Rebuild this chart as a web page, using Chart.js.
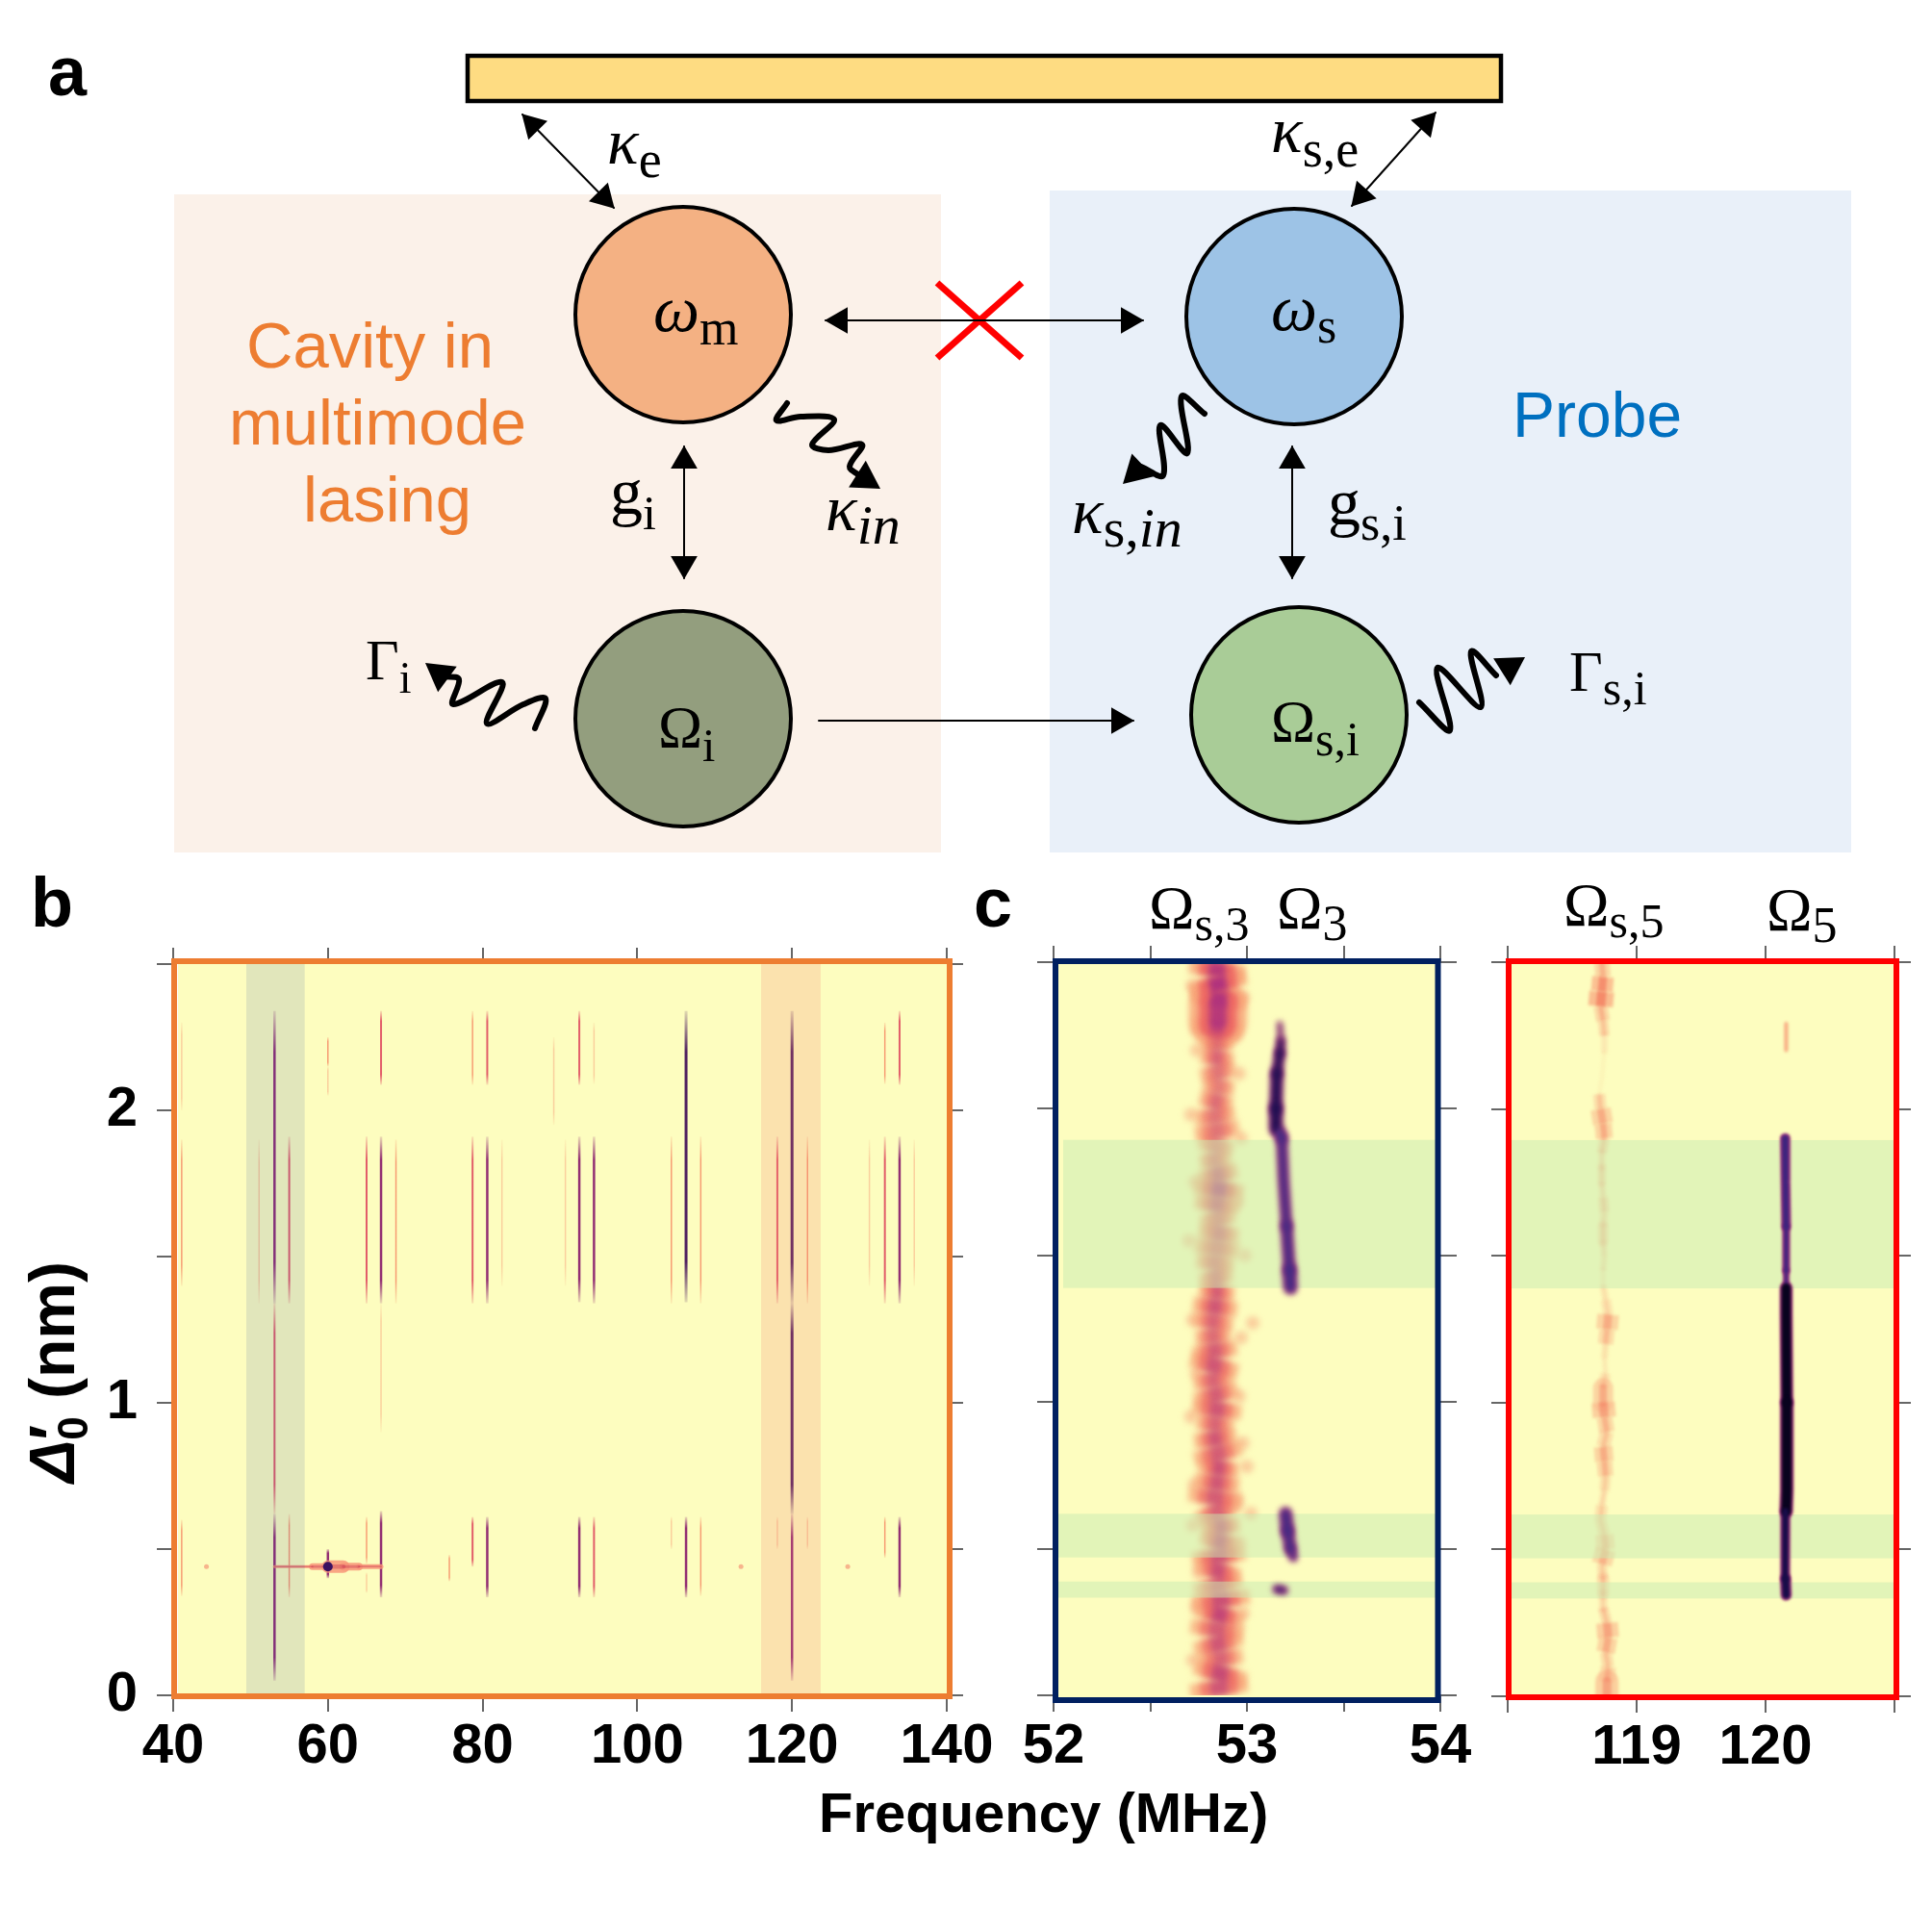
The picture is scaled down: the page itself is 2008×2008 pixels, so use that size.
<!DOCTYPE html>
<html><head><meta charset="utf-8">
<script src="https://cdn.jsdelivr.net/npm/chart.js@4"></script>
<style>
html{background:#fff}
html,body{margin:0;padding:0;width:2008px;height:2008px;overflow:hidden}
canvas{position:absolute}
.t{position:absolute;line-height:0;white-space:nowrap;font-family:"Liberation Serif",serif;color:#000}
.s{font-family:"Liberation Sans",Arial,sans-serif}
.t i{font-style:italic}
.u{position:relative}
</style></head><body>
<script>
/* ---------- panel b: vertical mode streaks ---------- */
const bXTicks=[40,60,80,100,120,140];
const bStreakFreq=[53.1,53.1,53.1,66.87,66.87,66.87,66.87,120,120,120,106.3,106.3,92.5,92.5,92.5,80.6,80.6,80.6,78.7,78.7,78.7,133.9,133.9,133.9,132,132,132,94.4,94.4,94.4,108.2,108.2,104.4,104.4,118.1,118.1,122,122,55,55,51.1,65,65,65,68.8,82.5,135.8,130,90.7,41.1,41.1,41.1,89.2,60,60,75.7,60];
const bStreakLow =[1.34,0.62,0.05,2.087,1.34,0.9,0.335,0.62,0.05,1.34,1.344,0.335,2.087,1.344,0.335,2.087,1.34,0.335,2.087,1.34,0.44,2.087,1.34,0.335,2.09,1.34,0.47,2.09,1.34,0.335,1.34,0.34,1.34,0.5,1.34,0.5,1.34,0.5,1.34,0.335,1.34,1.34,0.45,0.35,1.34,1.4,1.4,1.4,1.4,2.0,1.4,0.34,1.95,2.05,0.4,0.39,2.15];
const bStreakHigh=[2.34,1.34,0.62,2.34,1.91,1.34,0.63,1.34,0.62,2.34,2.34,0.61,2.34,1.91,0.61,2.34,1.91,0.61,2.34,1.91,0.61,2.34,1.91,0.61,2.3,1.91,0.61,2.3,1.91,0.61,1.91,0.61,1.91,0.61,1.91,0.61,1.91,0.61,1.91,0.62,1.9,1.91,0.61,0.42,1.9,1.9,1.9,1.9,1.9,2.3,1.9,0.6,2.25,2.15,0.5,0.48,2.25];
const bStreakLevel=[3,2,3,2,3,0,3,4,3,4,4,3,2,3,3,2,3,3,1,2,2,2,3,3,1,2,1,0,3,2,1,1,1,0,2,0,1,0,2,1,0,2,1,0,1,0,0,0,0,0,1,1,0,0,3,1,1];
const bRidgeFreq=[53.1,55,58,60,62,64,66.87];
const bRidgeDepth=[0.44,0.44,0.44,0.44,0.44,0.44,0.44];
const bRidgeThick=[3,3,7,13,8,5,4];
const bDotFreq=[44.3,113.4,127.2,60];
const bDotDepth=[0.44,0.44,0.44,0.44];
const bBandFreq=[[49.45,57.0],[116.0,123.7]];

/* ---------- panel c shared ---------- */
const cRowDepth=[2.5,2.45,2.4,2.35,2.3,2.25,2.2,2.15,2.1,2.05,2,1.95,1.9,1.85,1.8,1.75,1.7,1.65,1.6,1.55,1.5,1.45,1.4,1.35,1.3,1.25,1.2,1.15,1.1,1.05,1,0.95,0.9,0.85,0.8,0.75,0.7,0.65,0.6,0.55,0.5,0.45,0.4,0.35,0.3,0.25,0.2,0.15,0.1,0.05,0];
const cGreenBands=[[1.389,1.894],[0.47,0.619],[0.333,0.388]];

/* Omega_s,3 probe strip */
const c1StripCentre=[52.85,52.84,52.86,52.85,52.85,52.84,52.85,52.84,52.86,52.85,52.83,52.84,52.85,52.83,52.84,52.86,52.85,52.84,52.86,52.85,52.84,52.83,52.85,52.84,52.83,52.82,52.83,52.84,52.82,52.83,52.85,52.84,52.83,52.84,52.86,52.85,52.84,52.83,52.86,52.87,52.85,52.86,52.84,52.86,52.87,52.85,52.84,52.86,52.87,52.85,52.86];
const c1StripWidth=[0.25,0.26,0.24,0.26,0.22,0.14,0.15,0.16,0.14,0.15,0.18,0.2,0.16,0.14,0.18,0.22,0.2,0.16,0.18,0.2,0.17,0.15,0.16,0.2,0.18,0.16,0.2,0.22,0.18,0.2,0.22,0.17,0.19,0.22,0.18,0.2,0.24,0.2,0.17,0.18,0.24,0.2,0.22,0.26,0.22,0.24,0.22,0.2,0.24,0.26,0.24];
const c1StripCore=[0.8,0.9,0.85,0.8,0.5,0.3,0.4,0.3,0.25,0.35,0.3,0.3,0.25,0.3,0.5,0.75,0.5,0.3,0.4,0.3,0.3,0.35,0.45,0.5,0.4,0.35,0.45,0.5,0.4,0.45,0.5,0.4,0.5,0.45,0.55,0.5,0.45,0.4,0.55,0.6,0.5,0.55,0.4,0.55,0.65,0.45,0.5,0.4,0.6,0.5,0.55];
const c1WispFreq=[52.72,52.98,52.74,52.96,52.71,52.97,52.73,52.95,52.7,52.99,52.72,52.97,52.74,52.96,52.71,52.98,52.73,52.95,53.03,53.0,52.72,52.96,52.75,53.02,52.74,52.98,52.72];
const c1WispDepth=[2.42,2.38,2.2,2.12,1.98,1.9,1.75,1.68,1.55,1.5,1.28,1.22,1.1,1.02,0.95,0.86,0.72,0.66,1.27,0.78,0.58,0.52,0.42,0.62,0.3,0.28,0.12];
/* Omega_3 pieces */
const om3PieceDepth=[[2.29,2.23,2.19,2.12,2,1.93],[1.92,1.9,1.75,1.6,1.45,1.39],[0.62,0.56,0.5,0.47],[0.362,0.358]];
const om3PieceFreq=[[53.17,53.175,53.17,53.155,53.15,53.15],[53.17,53.18,53.19,53.205,53.22,53.225],[53.2,53.21,53.225,53.24],[53.155,53.19]];
const om3PieceWidth=[[0.012,0.03,0.04,0.05,0.055,0.055],[0.045,0.04,0.04,0.045,0.055,0.055],[0.05,0.045,0.03,0.01],[0.03,0.03]];
const om3PieceTone=['28,14,80','66,42,130','66,42,130','50,26,110'];

/* Omega_s,5 probe strip */
const c2StripCentre=[118.73,118.74,118.73,118.72,118.74,118.75,118.75,118.74,118.73,118.71,118.72,118.74,118.75,118.73,118.73,118.73,118.74,118.75,118.74,118.74,118.75,118.74,118.74,118.76,118.78,118.77,118.76,118.75,118.76,118.74,118.74,118.75,118.77,118.74,118.75,118.76,118.75,118.73,118.72,118.75,118.76,118.73,118.74,118.74,118.74,118.77,118.78,118.76,118.78,118.77,118.77];
const c2StripWidth=[0.1,0.14,0.16,0.09,0.07,0.05,0.03,0.03,0.03,0.08,0.13,0.11,0.07,0.05,0.06,0.05,0.07,0.06,0.07,0.05,0.05,0.04,0.05,0.07,0.14,0.1,0.05,0.04,0.07,0.13,0.15,0.1,0.09,0.12,0.1,0.07,0.05,0.08,0.08,0.12,0.13,0.07,0.08,0.06,0.07,0.14,0.12,0.08,0.1,0.15,0.1];
const c2StripLevel=[0.4,0.7,0.75,0.4,0.3,0.1,0.05,0.05,0.05,0.3,0.45,0.45,0.3,0.2,0.25,0.2,0.3,0.2,0.3,0.2,0.15,0.1,0.15,0.2,0.45,0.35,0.15,0.1,0.2,0.45,0.5,0.4,0.3,0.45,0.4,0.25,0.2,0.25,0.25,0.35,0.4,0.25,0.3,0.2,0.3,0.5,0.45,0.3,0.35,0.5,0.35];
/* Omega_5 pieces */
const om5PieceDepth=[[1.9,1.75,1.6,1.45,1.39],[1.39,1.3,1,0.7,0.63],[0.63,0.5,0.4,0.345]];
const om5PieceFreq=[[120.15,120.155,120.16,120.16,120.16],[120.16,120.16,120.165,120.165,120.16],[120.155,120.15,120.155,120.16]];
const om5PieceWidth=[[0.06,0.06,0.045,0.035,0.035],[0.085,0.085,0.09,0.09,0.08],[0.06,0.06,0.07,0.07]];
const om5PieceTone=['62,36,125','8,3,30','24,12,72'];
const om5FaintDepth=[2.29,2.2];
const om5FaintFreq=[120.16,120.16];

/* ---------- panel a: schematic ---------- */
const nodeX=[710,710,1345,1350];
const nodeY=[327,747,329,743];
const nodeColor=["#F4B183","#939E7E","#9DC3E6","#A9CC97"];
const arrowFrom=[[543,119],[1492,117],[858,333],[711,464],[1343,464]];
const arrowTo=[[638,216],[1405,214],[1188,333],[711,601],[1343,601]];
const oneWayFrom=[851,749];
const oneWayTo=[1178,749];
const crossA=[[974,294],[1062,372]];
const crossB=[[974,372],[1062,294]];
const waveKappa=[[818,419],[807,437],[832,433],[867,436],[844,462],[861,468],[896,462],[883,485],[893,494]];
const waveGamma=[[556,757],[567,726],[544,732],[506,752],[522,709],[471,732],[477,706],[461,703]];
const waveKappaS=[[1252,430],[1228,412],[1234,471],[1206,442],[1209,494],[1186,485]];
const waveGammaS=[[1475,730],[1507,759],[1494,694],[1539,735],[1529,677],[1555,702]];
const waveTips=[[915,508],[442,689],[1167,503],[1585,683]];
const blocks=[[181,202,978,886,"#FBF1E9"],[1091,198,1924,886,"#E9F0F9"]];

/* ---------- helpers ---------- */
Chart.defaults.animation=false;
Chart.defaults.responsive=false;
Chart.defaults.maintainAspectRatio=false;
Chart.defaults.devicePixelRatio=1;
Chart.defaults.font.family='"Liberation Sans",Arial,sans-serif';
const tickFont={family:'"Liberation Sans",Arial,sans-serif',weight:'bold',size:58};

function mkCanvas(l,t,w,h){const c=document.createElement('canvas');c.width=w;c.height=h;
  c.style.left=l+'px';c.style.top=t+'px';c.style.width=w+'px';c.style.height=h+'px';document.body.appendChild(c);return c;}
function px(s,v){return s.getPixelForValue(v);}
function line(points,extra){return Object.assign({type:'scatter',data:points,showLine:true,pointRadius:0,borderJoinStyle:'round',borderCapStyle:'round',fill:false},extra);}

function heatPlugin(cfg){
  function hBands(ch){const c=ch.ctx,f=cfg.frame,Y=ch.scales.y,ox=cfg.ox;c.save();c.filter='none';
    (cfg.hBands||[]).forEach((b,i)=>{c.fillStyle='rgba(199,235,177,.5)';const a=px(Y,b[1]),e=px(Y,b[0]);
      const st=((cfg.hStart&&cfg.hStart[i])||f[0])-ox;c.fillRect(st,a,f[2]-ox-st,e-a);});c.restore();}
  return{id:'heat'+cfg.id,
  beforeDatasetsDraw(ch){const c=ch.ctx,f=cfg.frame,ox=cfg.ox,oy=cfg.oy;c.save();c.fillStyle='#FDFDBF';
    const lead=cfg.lead||0;c.fillRect(f[0]-ox+lead,f[1]-oy,f[2]-f[0]-lead,f[3]-f[1]);c.restore();
    c.save();c.filter='blur('+cfg.blur+'px)';},
  beforeDatasetDraw(ch,args){if(cfg.topCount!==undefined&&args.index===cfg.topCount-1)hBands(ch);},
  afterDatasetsDraw(ch){const c=ch.ctx,f=cfg.frame,X=ch.scales.x,ox=cfg.ox,oy=cfg.oy;c.restore();
    c.save();
    (cfg.vBands||[]).forEach((b,i)=>{c.fillStyle=cfg.vColors[i];const a=px(X,b[0]),e=px(X,b[1]);c.fillRect(a,f[1]-oy-3,e-a,f[3]-f[1]);});
    c.strokeStyle=cfg.color;c.lineWidth=cfg.lw||6;c.strokeRect(f[0]-ox,f[1]-oy,f[2]-f[0],f[3]-f[1]);
    c.restore();}};}

function panel(cfg){
  const A=cfg.area,LM=150,RM=70,TM=60,BM=110;
  cfg.ox=A[0]-LM;cfg.oy=A[1]-TM;
  const W=A[2]-A[0]+LM+RM,H=A[3]-A[1]+TM+BM;
  const cv=mkCanvas(cfg.ox,cfg.oy,W,H);
  const fit=n=>(s=>{if(s.isHorizontal())s.height=n;else s.width=n;});
  const tk={drawOnChartArea:false,drawTicks:true,tickLength:17,tickColor:'#666',tickWidth:2,lineWidth:2,color:'#666'};
  const none=()=>'';
  /* Chart.js paints the first dataset last, so hand them over in reverse */
  const ch=new Chart(cv,{data:{datasets:cfg.datasets.slice().reverse()},plugins:[heatPlugin(cfg)],options:{
    layout:{padding:0,autoPadding:false},plugins:{legend:{display:false},tooltip:{enabled:false}},
    scales:{
      x:{type:'linear',position:'bottom',min:cfg.xr[0],max:cfg.xr[1],afterFit:fit(BM),grid:tk,border:{display:false},
        ticks:{stepSize:cfg.xStep,autoSkip:false,maxRotation:0,padding:2,color:'#000',font:tickFont,callback:cfg.xLabel}},
      x2:{type:'linear',position:'top',min:cfg.xr[0],max:cfg.xr[1],afterFit:fit(TM),grid:tk,border:{display:false},
        ticks:{stepSize:cfg.xStep,autoSkip:false,maxRotation:0,callback:none}},
      y:{type:'linear',position:'left',min:0,max:2.5,afterFit:fit(LM),grid:tk,border:{display:false},
        ticks:{stepSize:0.5,autoSkip:false,padding:20,color:'#000',font:tickFont,callback:cfg.yLabel||none}},
      y2:{type:'linear',position:'right',min:0,max:2.5,afterFit:fit(RM),grid:tk,border:{display:false},
        ticks:{stepSize:0.5,autoSkip:false,callback:none}}
    }}});
  /* settle the plot box exactly on the reference's axes */
  const ca=ch.chartArea;
  ch.resize(W+(A[2]-A[0])-(ca.right-ca.left),H+(A[3]-A[1])-(ca.bottom-ca.top));
  const cb=ch.chartArea;
  cfg.ox=A[0]-cb.left;cfg.oy=A[1]-cb.top;
  cv.style.left=cfg.ox+'px';cv.style.top=cfg.oy+'px';
  ch.update();
  return ch;
}

/* ---------- panel a (first, so it sits underneath) ---------- */
function head(tip,from,r){const dx=tip[0]-from[0],dy=tip[1]-from[1],n=Math.hypot(dx,dy);
  return{x:tip[0]-dx/n*r,y:tip[1]-dy/n*r,rot:Math.atan2(dx,-dy)*180/Math.PI};}
const aSets=[];
const headPts=[];
const headSize=[];
arrowFrom.forEach((a,i)=>{const b=arrowTo[i];
  aSets.push(line([{x:a[0],y:a[1]},{x:b[0],y:b[1]}],{borderColor:'#000',borderWidth:2}));
  headPts.push(head(a,b,15),head(b,a,15));headSize.push(16,16);});
aSets.push(line([{x:oneWayFrom[0],y:oneWayFrom[1]},{x:oneWayTo[0],y:oneWayTo[1]}],{borderColor:'#000',borderWidth:2}));
headPts.push(head(oneWayTo,oneWayFrom,15));headSize.push(16);
[crossA,crossB].forEach(c=>aSets.push(line(c.map(p=>({x:p[0],y:p[1]})),{borderColor:'#FF0000',borderWidth:7,borderCapStyle:'butt'})));
[waveKappa,waveGamma,waveKappaS,waveGammaS].forEach((w,i)=>{
  aSets.push(line(w.map(p=>({x:p[0],y:p[1]})),{borderColor:'#000',borderWidth:6,tension:0.35}));
  headPts.push(head(waveTips[i],w[w.length-1],19));headSize.push(19);});
aSets.push({type:'scatter',data:headPts.map(h=>({x:h.x,y:h.y})),pointStyle:'triangle',
  pointRadius:headSize,pointRotation:headPts.map(h=>h.rot),pointBackgroundColor:'#000',pointBorderWidth:0});
aSets.push({type:'scatter',data:nodeX.map((x,i)=>({x,y:nodeY[i]})),pointRadius:112,pointBackgroundColor:nodeColor,pointBorderColor:'#000',pointBorderWidth:4,clip:false});
const blockPlugin={id:'blocks',beforeDatasetsDraw(ch){const c=ch.ctx,X=ch.scales.x,Y=ch.scales.y;c.save();
  blocks.forEach(b=>{c.fillStyle=b[4];c.fillRect(px(X,b[0]),px(Y,b[1]),px(X,b[2])-px(X,b[0]),px(Y,b[3])-px(Y,b[1]));});
  c.fillStyle='#FEDC82';c.strokeStyle='#000';c.lineWidth=4.5;
  c.beginPath();c.rect(px(X,486),px(Y,58),px(X,1560)-px(X,486),px(Y,105)-px(Y,58));c.fill();c.stroke();c.restore();}};
const aCanvas=mkCanvas(0,0,2008,960);
new Chart(aCanvas,{data:{datasets:aSets},plugins:[blockPlugin],options:{layout:{padding:0,autoPadding:false},
  plugins:{legend:{display:false},tooltip:{enabled:false}},
  scales:{x:{type:'linear',min:0,max:2008,display:false},y:{type:'linear',min:0,max:960,reverse:true,display:false}}}});

/* ---------- panel b ---------- */
const levelColor=['250,205,155','246,150,110','224,84,100','140,35,110','70,20,90'];
const levelWidth=[1.5,1.5,2,2.5,3];
const bDatasets=[];
bStreakFreq.forEach((f,i)=>{
  const lo=bStreakLow[i],hi=bStreakHigh[i],lv=bStreakLevel[i],rgb=levelColor[lv];
  bDatasets.push(line([{x:f,y:lo},{x:f,y:hi}],{borderWidth:levelWidth[lv],borderCapStyle:'butt',
    borderColor(ctx){const y=ctx.chart.scales.y;if(!y)return 'rgb('+rgb+')';
      const p0=y.getPixelForValue(lo),p1=y.getPixelForValue(hi);
      if(!isFinite(p0)||!isFinite(p1))return 'rgb('+rgb+')';
      const g=ctx.chart.ctx.createLinearGradient(0,p0,0,p1);
      g.addColorStop(0,'rgba('+rgb+',.15)');g.addColorStop(.14,'rgba('+rgb+',.95)');
      g.addColorStop(.86,'rgba('+rgb+',.95)');g.addColorStop(1,'rgba('+rgb+',.15)');return g;}}));
});
bDatasets.push(line(bRidgeFreq.map((f,i)=>({x:f,y:bRidgeDepth[i]})),{borderColor:'rgba(248,150,120,.85)',
  segment:{borderWidth:c=>bRidgeThick[c.p0DataIndex]}}));
bDatasets.push(line(bRidgeFreq.map((f,i)=>({x:f,y:bRidgeDepth[i]})),{borderColor:'rgba(200,50,80,.4)',
  segment:{borderWidth:c=>Math.max(1.5,bRidgeThick[c.p0DataIndex]*0.35)}}));
bDatasets.push({type:'scatter',data:bDotFreq.map((f,i)=>({x:f,y:bDotDepth[i]})),
  pointRadius:[2.5,2.5,2.5,5],pointBackgroundColor:['#F7B58C','#F7B58C','#F7B58C','#3A1160'],pointBorderWidth:0});
panel({id:'b',area:[180,1002,984,1762],frame:[181,999,987,1763],lead:4,color:'#ED7D31',blur:0.5,
  xr:[40,140],xStep:20,xLabel:v=>bXTicks.includes(v)?String(v):'',
  yLabel:v=>Number.isInteger(v)?String(v):'',
  vBands:bBandFreq,vColors:['rgba(28,67,162,.12)','rgba(243,121,112,.2)'],datasets:bDatasets});

/* ---------- panel c ---------- */
function stripSets(freqs,widths,levels,layers){
  return layers.map(L=>line(cRowDepth.map((y,i)=>({x:freqs[i],y})),{borderCapStyle:'butt',borderColor:'rgba('+L.rgb+',.8)',
    segment:{borderWidth:c=>{const X=c.chart.scales.x;return Math.max(.5,widths[c.p0DataIndex]*L.w*(px(X,1)-px(X,0)));},
      borderColor:c=>'rgba('+L.rgb+','+Math.max(0,Math.min(1,levels[c.p0DataIndex]*L.a+L.b))+')'}}));
}
function pieceSets(depths,freqs,widths,tones,grow){
  return depths.map((d,k)=>line(d.map((y,i)=>({x:freqs[k][i],y})),{borderColor:'rgb('+(Array.isArray(tones)?tones[k]:tones)+')',borderCapStyle:'round',
    segment:{borderWidth:c=>{const X=c.chart.scales.x;return Math.max(1,widths[k][c.p0DataIndex]*(px(X,1)-px(X,0))+grow);}}}));
}
const c1Top=[...pieceSets(om3PieceDepth,om3PieceFreq,om3PieceWidth,'165,50,125',3),
             ...pieceSets(om3PieceDepth,om3PieceFreq,om3PieceWidth,om3PieceTone,-1)];
const c1Wisps={type:'scatter',data:c1WispFreq.map((f,i)=>({x:f,y:c1WispDepth[i]})),pointRadius:7,pointBackgroundColor:'rgba(247,170,130,.55)',pointBorderWidth:0};
panel({id:'c1',area:[1095,1000,1497,1762],frame:[1097,999,1494.5,1767],color:'#002060',blur:3,lw:6,
  xr:[52,54],xStep:0.5,xLabel:v=>Number.isInteger(v)?String(v):'',
  hBands:cGreenBands,hStart:[1105,1100,1100],topCount:c1Top.length,
  datasets:[c1Wisps,
    ...stripSets(c1StripCentre,c1StripWidth,c1StripCore,[{rgb:'248,165,120',w:1.15,a:.3,b:.6},{rgb:'238,105,100',w:.75,a:.8,b:.35},{rgb:'175,50,125',w:.35,a:1.2,b:-.1}]),
    ...c1Top
  ]});
const c2Top=[line(om5FaintFreq.map((f,i)=>({x:f,y:om5FaintDepth[i]})),{borderColor:'rgb(248,170,130)',borderWidth:4}),
             ...pieceSets(om5PieceDepth,om5PieceFreq,om5PieceWidth,'165,50,125',2),
             ...pieceSets(om5PieceDepth,om5PieceFreq,om5PieceWidth,om5PieceTone,-1.5)];
panel({id:'c2',area:[1567,1000,1969,1763],frame:[1568,999,1971,1764],color:'#FF0000',blur:1.6,lw:6,
  xr:[118,121],xStep:1,xLabel:v=>(v===119||v===120)?String(v):'',
  hBands:cGreenBands,topCount:c2Top.length,
  datasets:[
    ...stripSets(c2StripCentre,c2StripWidth,c2StripLevel,[{rgb:'250,185,140',w:1.2,a:1.2,b:.05},{rgb:'243,130,100',w:.45,a:1.2,b:-.05}]),
    ...c2Top
  ]});

/* ---------- text ---------- */
function put(x,base,size,html,css,cls){const d=document.createElement('div');d.className='t '+(cls||'');
  d.style.left=x+'px';d.style.top=(base-size*0.34)+'px';d.style.fontSize=size+'px';
  if(css)d.style.cssText+=';'+css;d.innerHTML=html;document.body.appendChild(d);return d;}
const sub=(h,dy,sz)=>'<span class="u" style="font-size:'+sz+'px;top:'+dy+'px">'+h+'</span>';
put(50,98,72,'a','font-weight:bold','s');
put(32,962,72,'b','font-weight:bold','s');
put(1012,962,72,'c','font-weight:bold','s');
const mathLabels=[
 [631,170,68,'<i>κ</i>',sub('e',14,54)],
 [679,344,68,'<i>ω</i>',sub('m',14,52)],
 [634,534,68,'g',sub('i',16,50)],
 [858,551,68,'<i>κ</i>',sub('<i>in</i>',14,58)],
 [380,706,60,'Γ',sub('i',14,46)],
 [684,776,62,'Ω',sub('i',15,48)],
 [1321,158,68,'<i>κ</i>',sub('s,e',15,54)],
 [1321,343,68,'<i>ω</i>',sub('s',13,52)],
 [1114,554,68,'<i>κ</i>',sub('s,<i>in</i>',14,58)],
 [1380,545,68,'g',sub('s,i',16,52)],
 [1321,770,62,'Ω',sub('s,i',15,50)],
 [1631,718,60,'Γ',sub('s,i',14,50)],
 [1194,966,64,'Ω',sub('s,3',12,50)],
 [1327,966,64,'Ω',sub('3',12,52)],
 [1625,963,64,'Ω',sub('s,5',12,50)],
 [1836,968,64,'Ω',sub('5',12,52)]
];
mathLabels.forEach(m=>put(m[0],m[1],m[2],m[3]+m[4]));
put(256,382,67,'Cavity in','color:#ED7D31','s');
put(238,462,67,'multimode','color:#ED7D31','s');
put(315,542,67,'lasing','color:#ED7D31','s');
put(1572,453,66,'Probe','color:#0070C0','s');
put(851,1904,58,'Frequency (MHz)','font-weight:bold','s');
put(54,1448,66,'<i>Δ</i>′<span class="u" style="font-size:44px;top:14px;margin-left:-16px">0</span> (nm)','font-weight:bold;transform:translate(-50%,0) rotate(-90deg);transform-origin:50% 0','s');
</script>
</body></html>
